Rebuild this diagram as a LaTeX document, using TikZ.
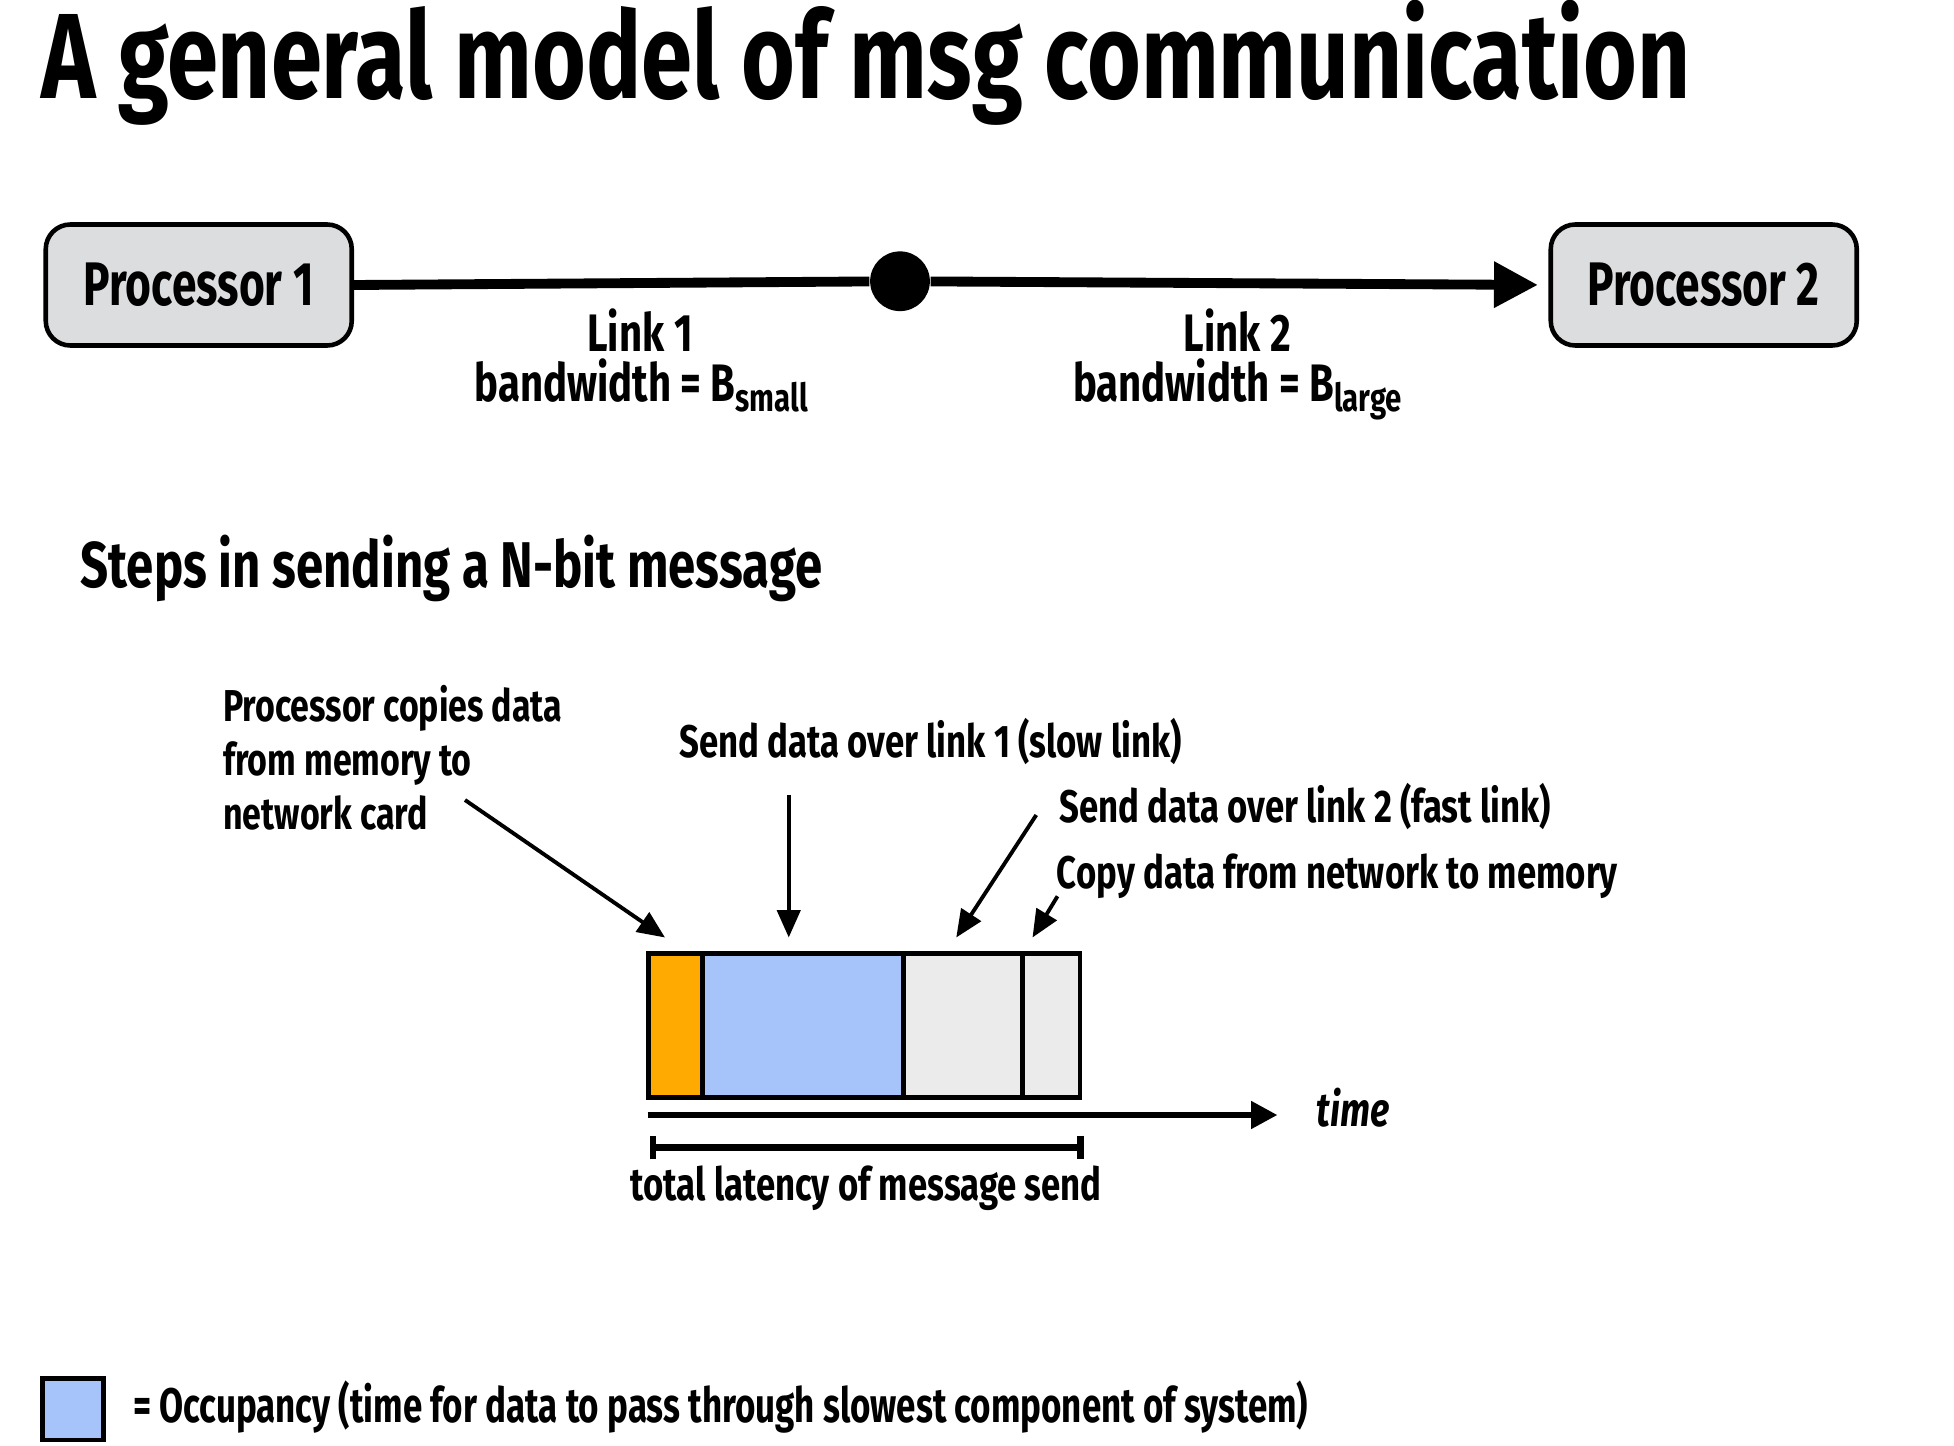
\documentclass[tikz,border=0pt]{standalone}
\usepackage{fontspec}
\setmainfont{Fira Sans}[FakeStretch=0.76]
\newfontfamily\narrowfont{Fira Sans}[FakeStretch=0.72]
\usetikzlibrary{arrows.meta,positioning}

\definecolor{boxgray}{RGB}{220,221,223}
\definecolor{copyorange}{RGB}{255,170,0}
\definecolor{occblue}{RGB}{166,196,250}
\definecolor{restgray}{RGB}{235,235,235}

\newcommand{\fs}[2]{\fontsize{#1}{#2}\selectfont\bfseries}
\newcommand{\lowsub}[1]{\raisebox{-0.2em}{\fontsize{11}{12}\selectfont\bfseries #1}}

\tikzset{
  txt/.style={inner sep=0pt, anchor=base west},
  procbox/.style={draw=black, line width=1.3pt, fill=boxgray, rounded corners=7pt,
    minimum width=30.6mm, minimum height=12.1mm, inner sep=0pt, font=\narrowfont\fs{17.5}{20}},
  notearrow/.style={line width=1.1pt, -{Triangle[length=7.8pt,width=6.6pt]}},
  seg/.style={draw=black, line width=1.3pt}
}

\begin{document}
\begin{tikzpicture}[x=0.125mm, y=-0.125mm]
\useasboundingbox (0,0) rectangle (1563.2,1156.8);

% title and the two processors
\node (title) [txt, font=\fs{34.5}{38}] at (33,79) {A general model of msg communication};
\node (p1) [procbox] at (159,228) {Processor 1};
\node (p2) [procbox] at (1363,228) {Processor 2};
\node (hub) [circle, fill=black, inner sep=0pt, minimum size=17pt] at (720,225) {};
\draw[line width=2.8pt] (p1.east) -- (hub);
\draw[line width=2.8pt, -{Triangle[length=12.5pt,width=12.5pt]}, shorten >=3pt] (hub) -- (p2.west);

% link labels
\node (lnk1) [txt, anchor=base, font=\fs{15}{18}] at (512,281) {Link 1};
\node (bw1) [txt, anchor=base, font=\fs{15}{18}] at (513,321) {bandwidth = B\lowsub{small}};
\node (lnk2) [txt, anchor=base, font=\fs{15}{18}] at (990,281) {Link 2};
\node (bw2) [txt, anchor=base, font=\fs{15}{18}] at (990,321) {bandwidth = B\lowsub{large}};

\node (steps) [txt, font=\fs{18.4}{22}] at (64,470) {Steps in sending a N-bit message};

% the four steps
\node (cpynote) [txt, anchor=north west, align=left, font=\fs{12.7}{15.3}] at (178,548)
  {Processor copies data\\from memory to\\network card};
\node (slownote) [txt, font=\fs{13}{15}] at (543,606) {Send data over link 1 (slow link)};
\node (fastnote) [txt, font=\fs{13}{15}] at (847,658) {Send data over link 2 (fast link)};
\node (memnote) [txt, font=\fs{13}{15}] at (845,711) {Copy data from network to memory};

\coordinate (c1s) at (372,640);  \coordinate (c1e) at (532,750);
\coordinate (c2s) at (631,636);  \coordinate (c2e) at (631,750);
\coordinate (c3s) at (829,652);  \coordinate (c3e) at (765,750);
\coordinate (c4s) at (846,717);  \coordinate (c4e) at (826,750);
\foreach \i in {1,...,4}
  \draw[notearrow] (c\i s) -- (c\i e);

% the message bar
\foreach \xa/\xb/\col in {519/562/copyorange, 562/723/occblue, 723/818/restgray, 818/864/restgray}
  \draw[seg, fill=\col] (\xa,763) rectangle (\xb,878);

\coordinate (t0) at (518,892);
\coordinate (t1) at (1022,892);
\draw[line width=1.8pt, -{Triangle[length=7.5pt,width=7.5pt]}] (t0) -- (t1);
\node (timelbl) [txt, font=\fs{13.5}{16}\itshape] at (1053,901) {time};

\coordinate (l0) at (520,918);
\coordinate (l1) at (867,918);
\draw[line width=1.8pt, {Bar[width=6.8pt]}-{Bar[width=6.8pt]}] (l0) -- (l1);
\node (latency) [txt, anchor=base, font=\fs{13}{15}] at (693,960) {total latency of message send};

% legend
\draw[seg, fill=occblue] (34,1103) rectangle (83,1152);
\node (legend) [txt, font=\narrowfont\fs{13.8}{16}] at (106,1138) {= Occupancy (time for data to pass through slowest component of system)};
\end{tikzpicture}
\end{document}
